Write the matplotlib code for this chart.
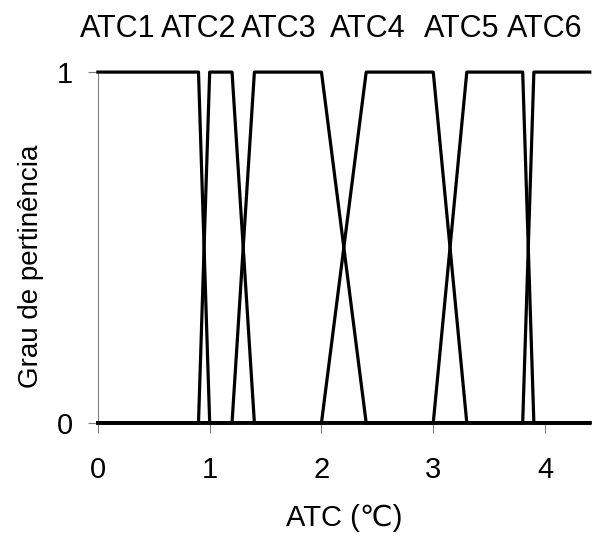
import matplotlib
matplotlib.use("Agg")
import matplotlib.pyplot as plt
import matplotlib.transforms as mtransforms

plt.rcParams['font.family'] = ['Liberation Sans', 'DejaVu Sans']

# breakpoints of the membership functions (x in degC, y = membership)
atc1_x = [0.0, 0.9, 1.0, 4.4]
atc1_y = [1, 1, 0, 0]
atc2_x = [0.0, 0.9, 1.0, 1.2, 1.4, 4.4]
atc2_y = [0, 0, 1, 1, 0, 0]
atc3_x = [0.0, 1.2, 1.4, 2.0, 2.4, 4.4]
atc3_y = [0, 0, 1, 1, 0, 0]
atc4_x = [0.0, 2.0, 2.4, 3.0, 3.3, 4.4]
atc4_y = [0, 0, 1, 1, 0, 0]
atc5_x = [0.0, 3.0, 3.3, 3.8, 3.9, 4.4]
atc5_y = [0, 0, 1, 1, 0, 0]
atc6_x = [0.0, 3.8, 3.9, 4.4]
atc6_y = [0, 0, 1, 1]

names = ["ATC1", "ATC2", "ATC3", "ATC4", "ATC5", "ATC6"]
name_pos = [0.175, 0.90, 1.62, 2.41, 3.25, 4.0]

fig = plt.figure(figsize=(6.08, 5.38), dpi=100)
ax = fig.add_axes([0.161, 0.214, 0.809, 0.652])

for xs, ys in [(atc1_x, atc1_y), (atc2_x, atc2_y), (atc3_x, atc3_y),
               (atc4_x, atc4_y), (atc5_x, atc5_y), (atc6_x, atc6_y)]:
    ax.plot(xs, ys, color="black", linewidth=2.3, clip_on=False, zorder=3)

ax.set_xlim(0, 4.4)
ax.set_ylim(0, 1)
ax.set_xticks([0, 1, 2, 3, 4])
ax.set_yticks([0, 1])

for s in ["top", "right"]:
    ax.spines[s].set_visible(False)
for s in ["left", "bottom"]:
    ax.spines[s].set_color("#808080")
    ax.spines[s].set_linewidth(0.8)

ax.tick_params(axis="x", direction="out", length=7, width=0.8, color="#808080",
               labelsize=21, pad=17)
ax.tick_params(axis="y", direction="out", length=7, width=0.8, color="#808080",
               labelsize=21, pad=11)

ax.set_xlabel("ATC (\u2103)", fontsize=21, labelpad=14)
ax.set_ylabel("Grau de pertinência", fontsize=20)
ax.yaxis.set_label_coords(-0.11, 0.447)

trans = mtransforms.blended_transform_factory(ax.transData, fig.transFigure)
for name, xp in zip(names, name_pos):
    ax.text(xp, 1 - 29 / 538, name, transform=trans, ha="center", va="center",
            fontsize=22)

fig.savefig("out.png", dpi=100)
